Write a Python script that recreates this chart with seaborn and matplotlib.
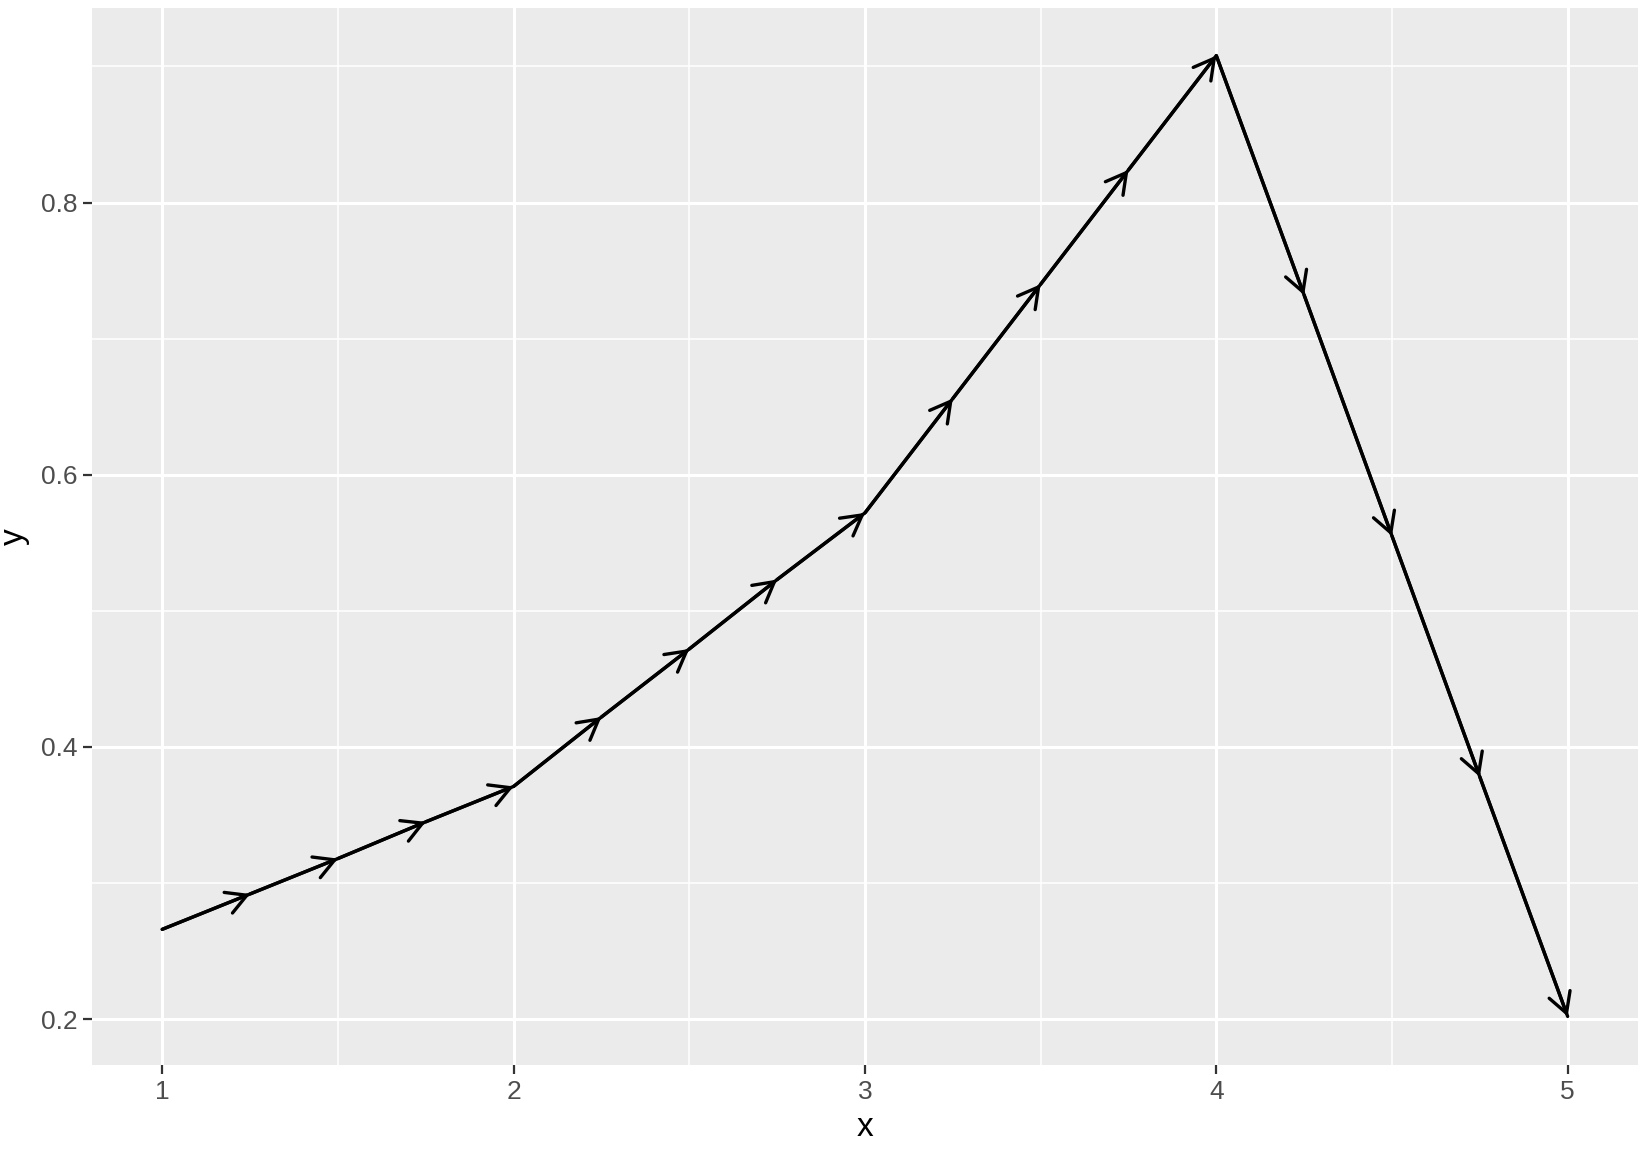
import numpy as np
import pandas as pd
import matplotlib
matplotlib.use("Agg")
import matplotlib.pyplot as plt
import seaborn as sns
from matplotlib.ticker import MultipleLocator

# data
x_vals = [1.0, 1.25, 1.5, 1.75, 2.0, 2.25, 2.5, 2.75, 3.0,
          3.25, 3.5, 3.75, 4.0, 4.25, 4.5, 4.75, 5.0]
y_vals = [0.266, 0.292, 0.318, 0.345, 0.371, 0.422, 0.472, 0.523, 0.572,
          0.656, 0.740, 0.824, 0.908, 0.732, 0.555, 0.378, 0.202]
x_ticks = [1, 2, 3, 4, 5]
y_ticks = [0.2, 0.4, 0.6, 0.8]

df = pd.DataFrame({"x": x_vals, "y": y_vals})

# ggplot2 grey look
sns.set_theme(style="darkgrid", rc={
    "axes.facecolor": "#EBEBEB",
    "grid.color": "white",
    "axes.edgecolor": "#EBEBEB",
})
plt.rcParams["font.family"] = ["Liberation Sans", "DejaVu Sans"]

fig = plt.figure(figsize=(16.48, 11.54), dpi=100)
ax = fig.add_axes([0.0558, 0.0771, 0.9939 - 0.0558, 0.9931 - 0.0771])

sns.lineplot(data=df, x="x", y="y", ax=ax, color="black", linewidth=2.4,
             sort=False, estimator=None)

# open arrowhead at the end of every segment
for i in range(len(df) - 1):
    ax.annotate("", xy=(df.x[i + 1], df.y[i + 1]), xytext=(df.x[i], df.y[i]),
                arrowprops=dict(arrowstyle="->,head_length=0.72,head_width=0.4",
                                color="black", lw=2.4, shrinkA=0, shrinkB=0,
                                mutation_scale=20))

ax.set_xlim(0.8, 5.2)
ax.set_ylim(0.1663, 0.943)
ax.set_xticks(x_ticks)
ax.set_yticks(y_ticks)
ax.xaxis.set_minor_locator(MultipleLocator(0.5))
ax.yaxis.set_minor_locator(MultipleLocator(0.1))
ax.grid(which="major", color="white", linewidth=2.2)
ax.grid(which="minor", color="white", linewidth=1.1)
ax.set_axisbelow(True)
for s in ax.spines.values():
    s.set_visible(False)

ax.tick_params(which="major", length=6.5, width=1.6, color="#333333",
               labelcolor="#4D4D4D", labelsize=19, pad=4, bottom=True, left=True)
ax.tick_params(which="minor", length=0)
ax.set_yticklabels(["0.2", "0.4", "0.6", "0.8"])
ax.set_xticklabels(["1", "2", "3", "4", "5"])
ax.set_xlabel("x", fontsize=24, color="black", labelpad=6)
ax.set_ylabel("y", fontsize=24, color="black", labelpad=8)

fig.savefig("out.png", dpi=100, facecolor="white")
